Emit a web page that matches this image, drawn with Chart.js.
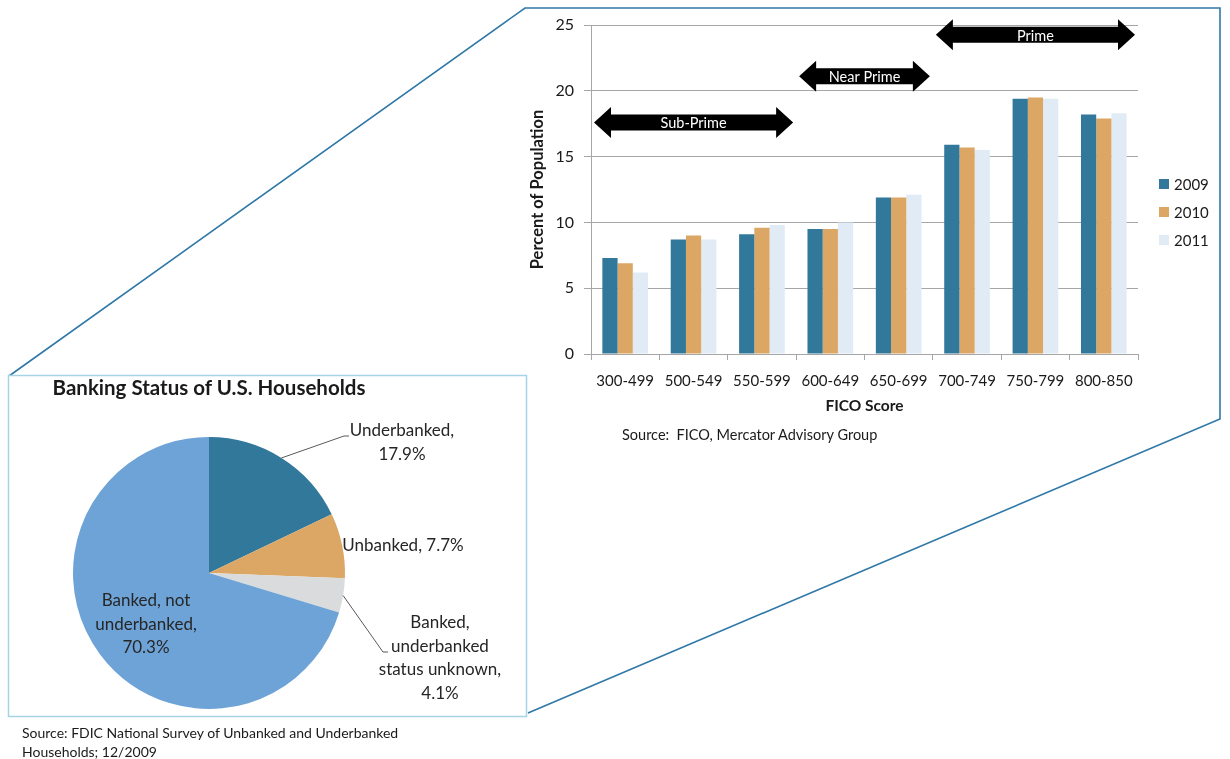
<!DOCTYPE html>
<html>
<head>
<meta charset="utf-8">
<script src="https://cdn.jsdelivr.net/npm/chart.js@4.4.0/dist/chart.umd.min.js"></script>
<style>
  body { margin: 0; width: 1230px; height: 759px; position: relative; background: #fff; overflow: hidden; font-family: Lato, sans-serif; color: #1a1a1a; }
  #frame { position: absolute; left: 0; top: 0; }
  #barChart { position: absolute; left: 520px; top: 0; }
  #pieChart { position: absolute; left: 8px; top: 375px; }
  .txt { position: absolute; white-space: nowrap; }
  #pieTitle { left: 0; width: 418px; top: 375px; font-weight: bold; font-size: 20.5px; line-height: 24px; text-align: center; }
  #barSource { left: 622px; top: 426px; font-size: 14.5px; line-height: 18px; }
  #pieSource { left: 22px; top: 723px; font-size: 14px; line-height: 19px; }
</style>
</head>
<body>
<svg id="frame" width="1230" height="759">
  <polyline points="9,376 525,8 1220,8 1220,419 528,713" fill="none" stroke="#2f78a8" stroke-width="1.6"/>
  <rect x="8.5" y="375.5" width="518" height="341" fill="#fff" stroke="#a6d3e6" stroke-width="1.5"/>
</svg>
<canvas id="barChart" width="700" height="450"></canvas>
<canvas id="pieChart" width="519" height="342"></canvas>
<div class="txt" id="pieTitle">Banking Status of U.S. Households</div>
<div class="txt" id="barSource">Source:&nbsp; FICO, Mercator Advisory Group</div>
<div class="txt" id="pieSource">Source: FDIC National Survey of Unbanked and Underbanked<br>Households; 12/2009</div>
<script>
// FICO score distribution (percent of population)
const scoreBands = ['300-499', '500-549', '550-599', '600-649', '650-699', '700-749', '750-799', '800-850'];
const years = ['2009', '2010', '2011'];
const values2009 = [7.3, 8.7, 9.1, 9.5, 11.9, 15.9, 19.4, 18.2];
const values2010 = [6.9, 9.0, 9.6, 9.5, 11.9, 15.7, 19.5, 17.9];
const values2011 = [6.2, 8.7, 9.8, 10.0, 12.1, 15.5, 19.4, 18.3];
const yTicks = [0, 5, 10, 15, 20, 25];

// credit tiers drawn as arrows over the bars
const tierLabels = ['Sub-Prime', 'Near Prime', 'Prime'];
const tierFrom = [0, 3, 5];
const tierTo = [2, 4, 7];
const tierLevel = [17.6, 21.1, 24.25];

// banking status pie
const pieLabels = ['Underbanked', 'Unbanked', 'Banked, underbanked status unknown', 'Banked, not underbanked'];
const pieValues = [17.9, 7.7, 4.1, 70.3];

const barColors = ['#31789b', '#dca765', '#e0ebf6'];
const pieColors = ['#31789b', '#dca765', '#dadbdd', '#6ea3d7'];
const gridGray = '#a6a6a6';
const textColor = '#1a1a1a';

// arrows for the credit tiers
const tierArrows = {
    id: 'tierArrows',
    afterDatasetsDraw(chart) {
        const { ctx, scales: { x, y } } = chart;
        const half = (x.getPixelForValue(1) - x.getPixelForValue(0)) / 2;
        ctx.save();
        tierLabels.forEach((label, i) => {
            const x1 = x.getPixelForValue(tierFrom[i]) - half + 3;
            const x2 = x.getPixelForValue(tierTo[i]) + half - 3;
            const cy = y.getPixelForValue(tierLevel[i]);
            const shaft = 8, head = 15.5, hl = 17;
            ctx.beginPath();
            ctx.moveTo(x1, cy);
            ctx.lineTo(x1 + hl, cy - head);
            ctx.lineTo(x1 + hl, cy - shaft);
            ctx.lineTo(x2 - hl, cy - shaft);
            ctx.lineTo(x2 - hl, cy - head);
            ctx.lineTo(x2, cy);
            ctx.lineTo(x2 - hl, cy + head);
            ctx.lineTo(x2 - hl, cy + shaft);
            ctx.lineTo(x1 + hl, cy + shaft);
            ctx.lineTo(x1 + hl, cy + head);
            ctx.closePath();
            ctx.fillStyle = '#000';
            ctx.fill();
            ctx.fillStyle = '#fff';
            ctx.font = '14.5px Lato';
            ctx.textAlign = 'center';
            ctx.textBaseline = 'middle';
            ctx.fillText(label, (x1 + x2) / 2, cy + 1);
        });
        ctx.restore();
    }
};

// legend to the right of the plot
const sideLegend = {
    id: 'sideLegend',
    afterDraw(chart) {
        const { ctx, chartArea } = chart;
        ctx.save();
        ctx.font = '15px Lato';
        ctx.textBaseline = 'middle';
        ctx.textAlign = 'left';
        chart.data.datasets.forEach((ds, i) => {
            const bx = chartArea.right + 21;
            const cy = chartArea.top + 159 + i * 28;
            ctx.fillStyle = ds.backgroundColor;
            ctx.fillRect(bx, cy - 5, 10, 10);
            ctx.fillStyle = textColor;
            ctx.fillText(ds.label, bx + 15, cy + 1);
        });
        ctx.restore();
    }
};

new Chart(document.getElementById('barChart'), {
    type: 'bar',
    data: {
        labels: scoreBands,
        datasets: [
            { label: years[0], data: values2009, backgroundColor: barColors[0] },
            { label: years[1], data: values2010, backgroundColor: barColors[1] },
            { label: years[2], data: values2011, backgroundColor: barColors[2] }
        ]
    },
    options: {
        responsive: false,
        animation: false,
        categoryPercentage: 0.668,
        barPercentage: 1,
        layout: { padding: { left: 0, right: 82, top: 25, bottom: 35 } },
        scales: {
            x: {
                grid: { display: true, drawOnChartArea: false, color: gridGray, tickLength: 6 },
                border: { color: gridGray },
                ticks: { color: textColor, font: { family: 'Lato', size: 15 }, padding: 12, maxRotation: 0 },
                title: { display: true, text: 'FICO Score', color: textColor, font: { family: 'Lato', size: 15.5, weight: 'bold' }, padding: { top: 4, bottom: 0 } },
                afterFit(scale) { scale.height = 61; }
            },
            y: {
                min: 0,
                max: 25,
                afterBuildTicks(scale) { scale.ticks = yTicks.map(v => ({ value: v })); },
                grid: { color: gridGray, tickLength: 7 },
                border: { color: gridGray },
                ticks: { color: textColor, font: { family: 'Lato', size: 16 }, padding: 10 },
                title: { display: true, text: 'Percent of Population', color: textColor, font: { family: 'Lato', size: 16.5, weight: 'bold' }, padding: { top: 8, bottom: 0 } },
                afterFit(scale) { scale.width = 71; }
            }
        },
        plugins: {
            legend: { display: false },
            tooltip: { enabled: false }
        }
    },
    plugins: [tierArrows, sideLegend]
});

// label placement for the pie (offsets from the pie centre, px)
const pieLabelLayout = [
    { dx: 193, dy: -142, wrap: 115, leader: [[135, -137], [140, -137]] },
    { dx: 194, dy: -27, wrap: 200 },
    { dx: 231, dy: 50, wrap: 135, leader: [[174, 79], [179, 79]] },
    { dx: -63, dy: 28, wrap: 115 }
];

function wrapText(ctx, text, width) {
    const words = text.split(' ');
    const lines = [];
    let line = '';
    words.forEach(w => {
        const test = line ? line + ' ' + w : w;
        if (line && ctx.measureText(test).width > width) {
            lines.push(line);
            line = w;
        } else {
            line = test;
        }
    });
    if (line) lines.push(line);
    return lines;
}

const pieLabelPlugin = {
    id: 'pieLabelPlugin',
    afterDraw(chart) {
        const { ctx } = chart;
        const arcs = chart.getDatasetMeta(0).data;
        ctx.save();
        ctx.font = '17px Lato';
        ctx.fillStyle = '#262626';
        ctx.textAlign = 'center';
        ctx.textBaseline = 'middle';
        arcs.forEach((arc, i) => {
            const { x, y, outerRadius, startAngle, endAngle } = arc.getProps(['x', 'y', 'outerRadius', 'startAngle', 'endAngle'], true);
            const lay = pieLabelLayout[i];
            if (lay.leader) {
                const mid = (startAngle + endAngle) / 2;
                ctx.beginPath();
                ctx.moveTo(x + outerRadius * Math.cos(mid), y + outerRadius * Math.sin(mid));
                lay.leader.forEach(p => ctx.lineTo(x + p[0], y + p[1]));
                ctx.strokeStyle = '#595959';
                ctx.lineWidth = 1;
                ctx.stroke();
            }
            const text = pieLabels[i] + ', ' + pieValues[i] + '%';
            wrapText(ctx, text, lay.wrap).forEach((ln, k) => {
                ctx.fillText(ln, x + lay.dx, y + lay.dy + k * 23.5);
            });
        });
        ctx.restore();
    }
};

new Chart(document.getElementById('pieChart'), {
    type: 'pie',
    data: {
        labels: pieLabels,
        datasets: [{ data: pieValues, backgroundColor: pieColors, borderWidth: 0 }]
    },
    options: {
        responsive: false,
        animation: false,
        layout: { padding: { left: 65, right: 182, top: 62, bottom: 8 } },
        plugins: {
            legend: { display: false },
            tooltip: { enabled: false }
        }
    },
    plugins: [pieLabelPlugin]
});
</script>
</body>
</html>
